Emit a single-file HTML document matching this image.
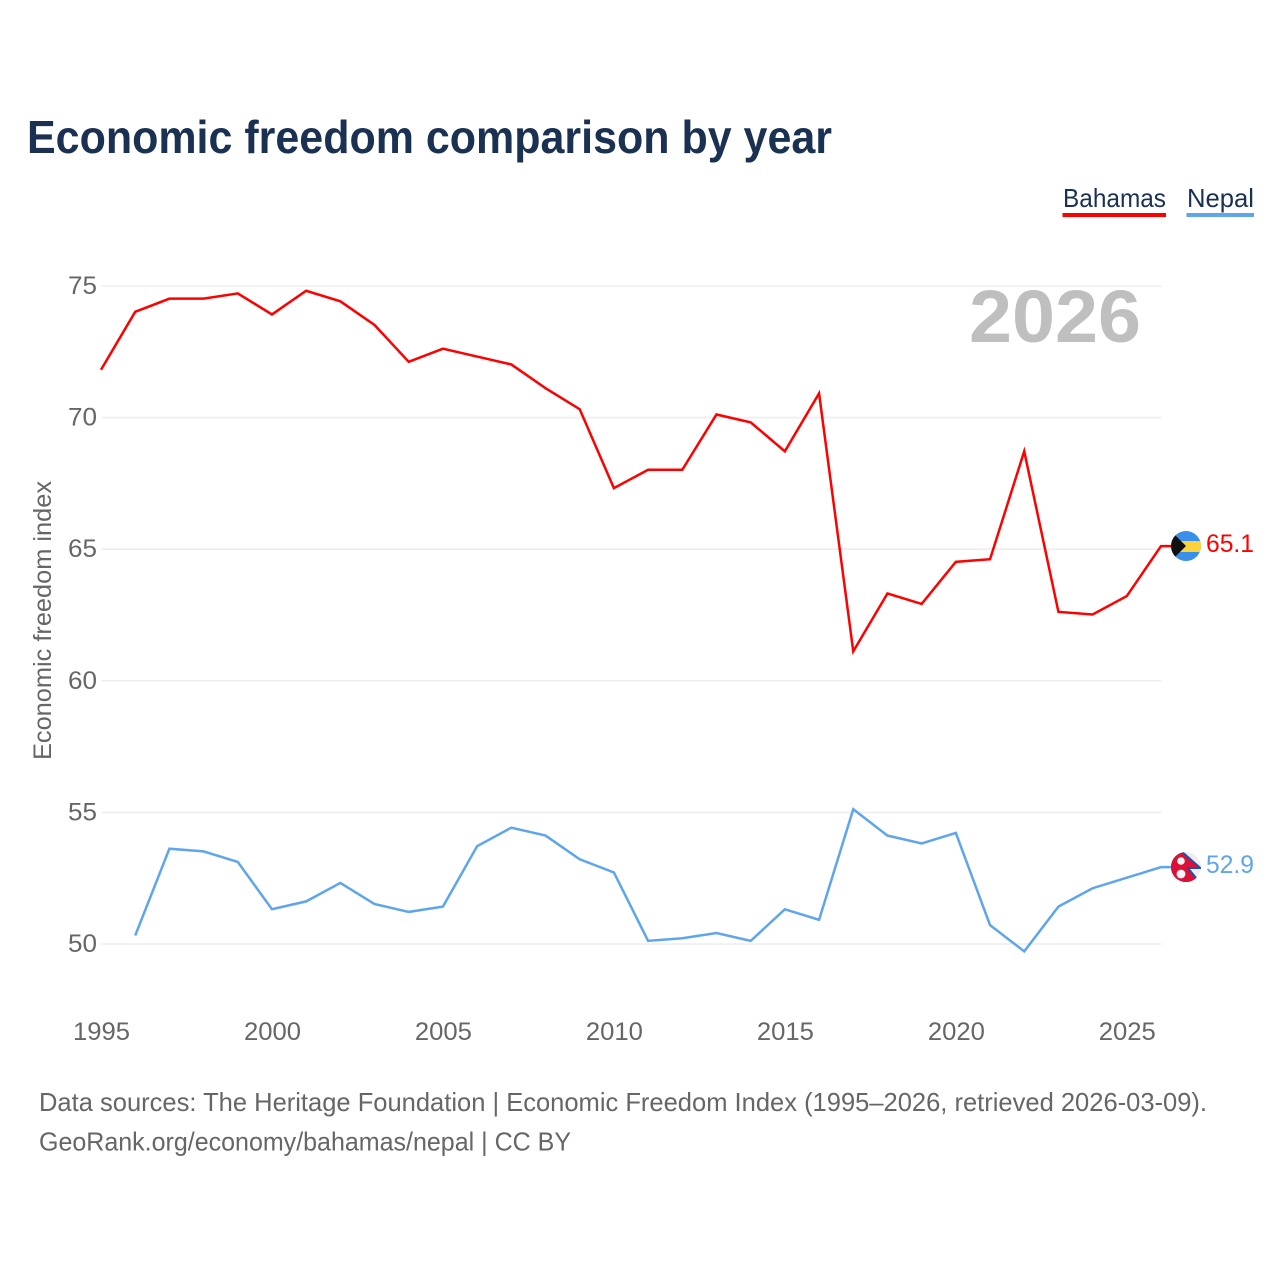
<!DOCTYPE html>
<html lang="en">
<head>
<meta charset="utf-8">
<title>Economic freedom comparison by year</title>
<style>
html,body{margin:0;padding:0;background:#fff;}
svg{display:block;}
text{font-family:"Liberation Sans",sans-serif;}
</style>
</head>
<body>
<svg id="chart" xmlns="http://www.w3.org/2000/svg" width="1280" height="1280" viewBox="0 0 1280 1280">
  <rect width="1280" height="1280" fill="#fff"/>
  <text x="27" y="153" font-size="46" font-weight="700" fill="#1a3152" textLength="805" lengthAdjust="spacingAndGlyphs">Economic freedom comparison by year</text>
  <g>
    <text x="1063" y="207" font-size="26" fill="#1a3152" textLength="103" lengthAdjust="spacingAndGlyphs">Bahamas</text>
    <rect x="1062.5" y="213" width="103.5" height="4" fill="#ff0000"/>
    <text x="1187" y="207" font-size="26" fill="#1a3152" textLength="67" lengthAdjust="spacingAndGlyphs">Nepal</text>
    <rect x="1186.5" y="213" width="67.5" height="4" fill="#5fa5ec"/>
  </g>
  <g id="grid"></g>
  <g id="yticks"></g>
  <g id="xticks"></g>
  <text transform="translate(51,760) rotate(-90)" font-size="25" fill="#666" textLength="279" lengthAdjust="spacingAndGlyphs">Economic freedom index</text>
  <text x="969" y="342" font-size="74" font-weight="700" fill="#bfbfbf" textLength="172" lengthAdjust="spacingAndGlyphs">2026</text>
  <g id="series"></g>
  <defs>
    <clipPath id="clip-bs"><circle cx="1186" cy="546" r="15"/></clipPath>
    <clipPath id="clip-np"><circle cx="1186" cy="867" r="15"/></clipPath>
  </defs>
  <g clip-path="url(#clip-bs)">
    <rect x="1171" y="531" width="30" height="30" fill="#3a8fe8"/>
    <rect x="1171" y="541" width="30" height="11" fill="#fdd33c"/>
    <polygon points="1171,531 1186,546 1171,561" fill="#111"/>
  </g>
  <g clip-path="url(#clip-np)">
    <rect x="1171" y="852" width="30" height="30" fill="#eeeeee"/>
    <polygon points="1171,847 1178,847 1203,869 1190,869 1203,885 1171,885" fill="#1f4fa8"/>
    <polygon points="1171,849 1177,849 1198,867 1186,867 1198,882 1171,882" fill="#dc0f37"/>
    <circle cx="1181" cy="861" r="3.8" fill="#f4f4f4"/>
    <circle cx="1181" cy="874" r="4.4" fill="#f4f4f4"/>
  </g>
  <text id="end-label-bahamas" x="1206" y="552" font-size="25" fill="#ff0000" textLength="48" lengthAdjust="spacingAndGlyphs"></text>
  <text id="end-label-nepal" x="1206" y="873" font-size="25" fill="#5fa5ec" textLength="48" lengthAdjust="spacingAndGlyphs"></text>
  <text x="39" y="1111" font-size="26" fill="#666" textLength="1168" lengthAdjust="spacingAndGlyphs">Data sources: The Heritage Foundation | Economic Freedom Index (1995–2026, retrieved 2026-03-09).</text>
  <text x="39" y="1150.5" font-size="26" fill="#666" textLength="532" lengthAdjust="spacingAndGlyphs">GeoRank.org/economy/bahamas/nepal | CC BY</text>
</svg>
<script>
const years = [1995,1996,1997,1998,1999,2000,2001,2002,2003,2004,2005,2006,2007,2008,2009,2010,2011,2012,2013,2014,2015,2016,2017,2018,2019,2020,2021,2022,2023,2024,2025,2026];
const bahamas = [71.8,74.0,74.5,74.5,74.7,73.9,74.8,74.4,73.5,72.1,72.6,72.3,72.0,71.1,70.3,67.3,68.0,68.0,70.1,69.8,68.7,70.9,61.1,63.3,62.9,64.5,64.6,68.7,62.6,62.5,63.2,65.1];
const nepal = [null,50.3,53.6,53.5,53.1,51.3,51.6,52.3,51.5,51.2,51.4,53.7,54.4,54.1,53.2,52.7,50.1,50.2,50.4,50.1,51.3,50.9,55.1,54.1,53.8,54.2,50.7,49.7,51.4,52.1,52.5,52.9];
const yTicks = [50,55,60,65,70,75];
const xTicks = [1995,2000,2005,2010,2015,2020,2025];

const NS = 'http://www.w3.org/2000/svg';
const xScale = function (year) { return 101 + (year - 1995) * (1161 - 101) / 31; };
const yScale = function (v) { return 943.5 - (v - 50) * (943.5 - 285.5) / 25; };

const grid = document.getElementById('grid');
const yt = document.getElementById('yticks');
yTicks.forEach(function (t) {
  const l = document.createElementNS(NS, 'line');
  
  
  l.setAttribute('x1', 101.5);
  l.setAttribute('x2', 1161.5);
  l.setAttribute('y1', yScale(t) + 0.5);
  l.setAttribute('y2', yScale(t) + 0.5);
  l.setAttribute('stroke', '#eeeeee');
  l.setAttribute('stroke-width', '1.6');
  grid.appendChild(l);
  const txt = document.createElementNS(NS, 'text');
  
  
  txt.setAttribute('x', 97);
  txt.setAttribute('y', yScale(t) + 8.5);
  txt.setAttribute('text-anchor', 'end');
  txt.setAttribute('font-size', '25');
  txt.setAttribute('fill', '#666');
  txt.setAttribute('textLength', '29');
  txt.setAttribute('lengthAdjust', 'spacingAndGlyphs');
  txt.textContent = t;
  yt.appendChild(txt);
});

const xt = document.getElementById('xticks');
xTicks.forEach(function (t) {
  const txt = document.createElementNS(NS, 'text');
  
  
  txt.setAttribute('x', xScale(t) + 0.5);
  txt.setAttribute('y', 1040);
  txt.setAttribute('text-anchor', 'middle');
  txt.setAttribute('font-size', '25');
  txt.setAttribute('fill', '#666');
  txt.setAttribute('textLength', '57');
  txt.setAttribute('lengthAdjust', 'spacingAndGlyphs');
  txt.textContent = t;
  xt.appendChild(txt);
});

function pathFor(values) {
  let d = '';
  values.forEach(function (v, i) {
    if (v === null) return;
    d += (d ? 'L' : 'M') + xScale(years[i]).toFixed(2) + ' ' + yScale(v).toFixed(2);
  });
  return d;
}

const seriesGroup = document.getElementById('series');
const nepalLine = document.createElementNS(NS, 'path');


nepalLine.setAttribute('d', pathFor(nepal) + 'H1172');
nepalLine.setAttribute('fill', 'none');
nepalLine.setAttribute('stroke', '#5fa5ec');
nepalLine.setAttribute('stroke-width', '2.5');
seriesGroup.appendChild(nepalLine);
const bahamasLine = document.createElementNS(NS, 'path');


bahamasLine.setAttribute('d', pathFor(bahamas) + 'H1172');
bahamasLine.setAttribute('fill', 'none');
bahamasLine.setAttribute('stroke', '#ff0000');
bahamasLine.setAttribute('stroke-width', '2.5');
seriesGroup.appendChild(bahamasLine);

document.getElementById('end-label-bahamas').textContent = bahamas[bahamas.length - 1].toFixed(1);
document.getElementById('end-label-nepal').textContent = nepal[nepal.length - 1].toFixed(1);
</script>
</body>
</html>
